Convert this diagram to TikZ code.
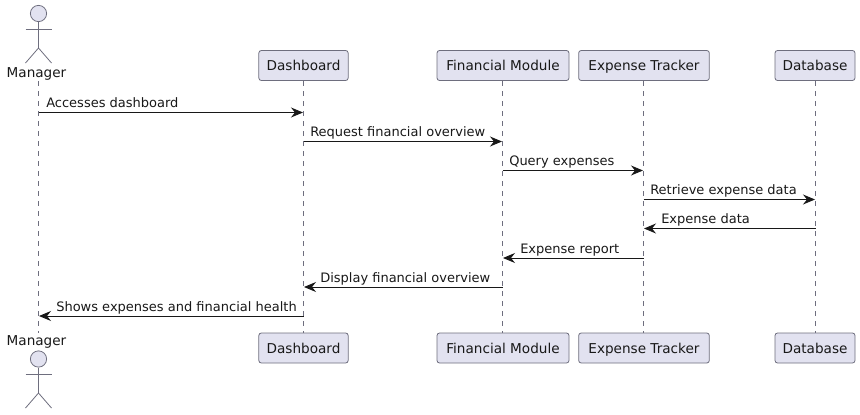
\documentclass[tikz,border=0pt]{standalone}
\usepackage{fontspec}
\setmainfont{DejaVu Sans}
\usetikzlibrary{arrows.meta}
\definecolor{pfill}{HTML}{E2E2F0}
\definecolor{pline}{HTML}{6E6E7E}
\definecolor{ink}{HTML}{181818}
\tikzset{
  x=0.75pt,y=-0.75pt,
  partbox/.style={draw=pline,fill=pfill,rounded corners=1.9pt,line width=0.6pt,minimum height=22.5pt,inner sep=0pt,text height=8.5pt,text depth=0.7pt,font=\fontsize{10.2}{12}\selectfont,text=ink,anchor=center},
  actorlabel/.style={font=\fontsize{10.2}{12}\selectfont,text=ink,inner sep=0pt,minimum width=45pt,minimum height=12pt},
  lifeline/.style={draw=pline,line width=0.5pt,dash pattern=on 3.75pt off 3.75pt},
  msg/.style={draw=ink,line width=0.7pt,-{Stealth[length=9pt,width=7.5pt,inset=3pt]}},
  msgtext/.style={font=\fontsize{9.75}{12}\selectfont,text=ink,inner sep=0pt,anchor=base west},
  actorhead/.style={circle,draw=pline,fill=pfill,line width=0.6pt,minimum size=12.2pt,inner sep=0pt},
  actorbody/.style={draw=pline,line width=0.6pt}
}
\begin{document}
\begin{tikzpicture}
\useasboundingbox (0,0) rectangle (860,414);
% top participants
\node[actorlabel] (mgrT) at (36.5,74) {Manager};
\node[partbox,minimum width=67pt] (dashT) at (303.5,65.5) {Dashboard};
\node[partbox,minimum width=99pt] (finT) at (503,65.5) {Financial Module};
\node[partbox,minimum width=98pt] (expT) at (644,65.5) {Expense Tracker};
\node[partbox,minimum width=60pt] (dbT) at (815,65.5) {Database};
% bottom participants
\node[actorlabel] (mgrB) at (36.5,342) {Manager};
\node[partbox,minimum width=67pt] (dashB) at (303.5,348) {Dashboard};
\node[partbox,minimum width=99pt] (finB) at (503,348) {Financial Module};
\node[partbox,minimum width=98pt] (expB) at (644,348) {Expense Tracker};
\node[partbox,minimum width=60pt] (dbB) at (815,348) {Database};
% lifelines
\coordinate (lmT) at (38.5,81); \coordinate (lmB) at (38.5,333);
\coordinate (ldT) at (303.5,81); \coordinate (ldB) at (303.5,333);
\coordinate (lfT) at (502.5,81); \coordinate (lfB) at (502.5,333);
\coordinate (leT) at (643.5,81); \coordinate (leB) at (643.5,333);
\coordinate (lbT) at (815.5,81); \coordinate (lbB) at (815.5,333);
\draw[lifeline] (lmT) -- (lmB);
\draw[lifeline] (ldT) -- (ldB);
\draw[lifeline] (lfT) -- (lfB);
\draw[lifeline] (leT) -- (leB);
\draw[lifeline] (lbT) -- (lbB);
% top actor
\node[actorhead] (headT) at (38.5,13.5) {};
\coordinate (hipT) at (38.5,48);
\coordinate (armLT) at (25.5,29); \coordinate (armRT) at (51.5,29);
\coordinate (legLT) at (25.5,63); \coordinate (legRT) at (51.5,63);
\draw[actorbody] (headT) -- (hipT);
\draw[actorbody] (armLT) -- (armRT);
\draw[actorbody] (legLT) -- (hipT) -- (legRT);
% bottom actor
\node[actorhead] (headB) at (38.5,359) {};
\coordinate (hipB) at (38.5,393);
\coordinate (armLB) at (25.5,374.5); \coordinate (armRB) at (51.5,374.5);
\coordinate (legLB) at (25.5,408); \coordinate (legRB) at (51.5,408);
\draw[actorbody] (headB) -- (hipB);
\draw[actorbody] (armLB) -- (armRB);
\draw[actorbody] (legLB) -- (hipB) -- (legRB);
% messages
\coordinate (a1) at (38.5,112.5); \coordinate (b1) at (303,112.5);
\coordinate (a2) at (303.5,141.5); \coordinate (b2) at (502,141.5);
\coordinate (a3) at (502.5,170.5); \coordinate (b3) at (643,170.5);
\coordinate (a4) at (643.5,199.5); \coordinate (b4) at (815,199.5);
\coordinate (a5) at (815.5,228.5); \coordinate (b5) at (644,228.5);
\coordinate (a6) at (643.5,258); \coordinate (b6) at (503,258);
\coordinate (a7) at (502.5,287); \coordinate (b7) at (304,287);
\coordinate (a8) at (303.5,316); \coordinate (b8) at (39,316);
\draw[msg] (a1) -- (b1);
\draw[msg] (a2) -- (b2);
\draw[msg] (a3) -- (b3);
\draw[msg] (a4) -- (b4);
\draw[msg] (a5) -- (b5);
\draw[msg] (a6) -- (b6);
\draw[msg] (a7) -- (b7);
\draw[msg] (a8) -- (b8);
\node[msgtext] (t1) at (46,107.5) {Accesses dashboard};
\node[msgtext] (t2) at (310,136.5) {Request financial overview};
\node[msgtext] (t3) at (509,165.5) {Query expenses};
\node[msgtext] (t4) at (650,194.5) {Retrieve expense data};
\node[msgtext] (t5) at (661,223.5) {Expense data};
\node[msgtext] (t6) at (520,253) {Expense report};
\node[msgtext] (t7) at (320,282) {Display financial overview};
\node[msgtext] (t8) at (56,311) {Shows expenses and financial health};
\end{tikzpicture}
\end{document}
